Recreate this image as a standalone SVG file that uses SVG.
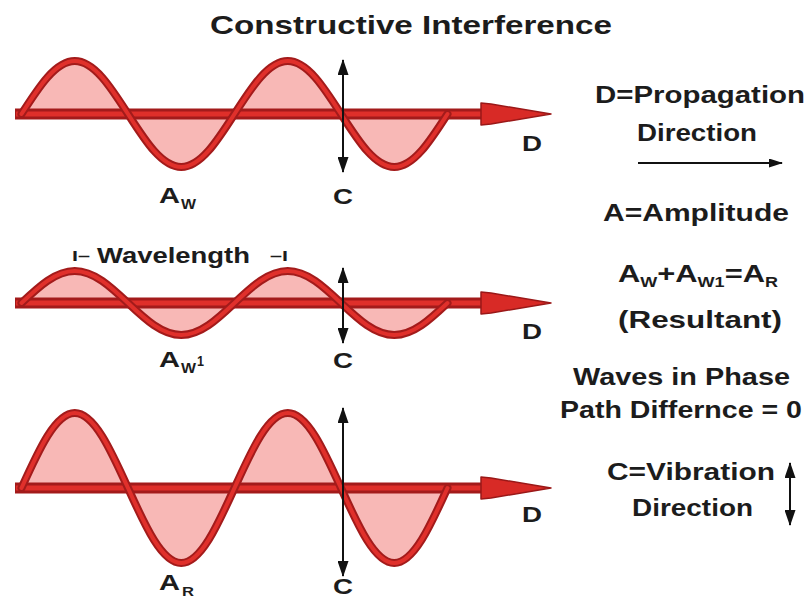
<svg xmlns="http://www.w3.org/2000/svg" width="810" height="602" viewBox="0 0 810 602">
<style>
  text { font-family: "Liberation Sans", Arial, sans-serif; font-weight: bold; fill: #1c1c1c; }
  .title { font-size: 26px; }
  .leg { font-size: 24px; }
  .lbl { font-size: 22px; }
  .sub { font-size: 14px; }
  .fill { fill: #f8b8b6; stroke: none; }
  .wout { fill: none; stroke: #a31b1b; stroke-width: 8; stroke-linejoin: round; stroke-linecap: round; }
  .win { fill: none; stroke: #e0302b; stroke-width: 4; stroke-linejoin: round; stroke-linecap: round; }
  .aout { stroke: #a31b1b; stroke-width: 11; }
  .ain { stroke: #df2f2a; stroke-width: 5; }
  .head { fill: #d82a26; stroke: #9a1818; stroke-width: 1.5; stroke-linejoin: round; }
  .vib { stroke: #111; stroke-width: 2; fill: none; marker-start: url(#tip); marker-end: url(#tip); }
  .dir { stroke: #111; stroke-width: 2; fill: none; marker-end: url(#tipS); }
</style>
<defs>
  <marker id="tip" viewBox="0 0 16 11" refX="15" refY="5.5" markerWidth="16" markerHeight="11" markerUnits="userSpaceOnUse" orient="auto-start-reverse">
    <path d="M0,0 L16,5.5 L0,11 Z" fill="#111"/>
  </marker>
  <marker id="tipS" viewBox="0 0 14 9" refX="13" refY="4.5" markerWidth="14" markerHeight="9" markerUnits="userSpaceOnUse" orient="auto-start-reverse">
    <path d="M0,0 L14,4.5 L0,9 Z" fill="#111"/>
  </marker>
  <path id="w1" d="M21.5,114 c17.37,-27.15 33.98,-53 53.25,-53 c19.27,0 35.88,25.85 53.25,53 c17.37,27.15 33.98,53 53.25,53 c19.27,0 35.88,-25.85 53.25,-53 c17.37,-27.15 33.98,-53 53.25,-53 c19.27,0 35.88,25.85 53.25,53 c17.37,27.15 33.98,53 53.25,53 c19.27,0 35.88,-25.85 53.25,-53"/>
  <path id="w2" d="M21.5,303 c17.37,-16.39 33.98,-32 53.25,-32 c19.27,0 35.88,15.61 53.25,32 c17.37,16.39 33.98,32 53.25,32 c19.27,0 35.88,-15.61 53.25,-32 c17.37,-16.39 33.98,-32 53.25,-32 c19.27,0 35.88,15.61 53.25,32 c17.37,16.39 33.98,32 53.25,32 c19.27,0 35.88,-15.61 53.25,-32"/>
  <path id="w3" d="M21.5,488 c17.37,-38.42 33.98,-75 53.25,-75 c19.27,0 35.88,36.58 53.25,75 c17.37,38.42 33.98,75 53.25,75 c19.27,0 35.88,-36.58 53.25,-75 c17.37,-38.42 33.98,-75 53.25,-75 c19.27,0 35.88,36.58 53.25,75 c17.37,38.42 33.98,75 53.25,75 c19.27,0 35.88,-36.58 53.25,-75"/>
</defs>
<rect width="810" height="602" fill="#ffffff"/>

<g id="title">
  <text class="title" x="210" y="34" textLength="402" lengthAdjust="spacingAndGlyphs">Constructive Interference</text>
</g>

<g id="wave-top">
  <use href="#w1" class="fill"/>
  <line class="aout" x1="15" y1="114" x2="486" y2="114"/>
  <line class="ain" x1="16" y1="114" x2="486" y2="114"/>
  <use href="#w1" class="wout"/>
  <use href="#w1" class="win"/>
  <path class="head" d="M481,103 L491,104 L551,114 L491,124 L481,125 Z"/>
  <text class="lbl" x="522" y="151" textLength="20" lengthAdjust="spacingAndGlyphs">D</text>
  <text class="lbl" x="159" y="203" textLength="21" lengthAdjust="spacingAndGlyphs">A</text>
  <text class="sub" x="181" y="209" textLength="15" lengthAdjust="spacingAndGlyphs">W</text>
  <text class="lbl" x="343" y="204" text-anchor="middle" textLength="20" lengthAdjust="spacingAndGlyphs">C</text>
</g>

<g id="wave-mid">
  <use href="#w2" class="fill"/>
  <line class="aout" x1="15" y1="303" x2="486" y2="303"/>
  <line class="ain" x1="16" y1="303" x2="486" y2="303"/>
  <use href="#w2" class="wout"/>
  <use href="#w2" class="win"/>
  <path class="head" d="M481,292 L491,293 L551,303 L491,313 L481,314 Z"/>
  <text class="lbl" x="522" y="339" textLength="20" lengthAdjust="spacingAndGlyphs">D</text>
  <text class="lbl" x="159" y="367" textLength="21" lengthAdjust="spacingAndGlyphs">A</text>
  <text class="sub" x="181" y="373" textLength="15" lengthAdjust="spacingAndGlyphs">W</text>
  <text class="sub" x="197" y="366" textLength="7" lengthAdjust="spacingAndGlyphs">1</text>
  <text class="lbl" x="343" y="368" text-anchor="middle" textLength="20" lengthAdjust="spacingAndGlyphs">C</text>
  <text class="sub" x="72" y="261" textLength="18" lengthAdjust="spacingAndGlyphs">I–</text>
  <text class="lbl" x="97" y="263" textLength="153" lengthAdjust="spacingAndGlyphs">Wavelength</text>
  <text class="sub" x="270" y="261" textLength="18" lengthAdjust="spacingAndGlyphs">–I</text>
</g>

<g id="wave-bot">
  <use href="#w3" class="fill"/>
  <line class="aout" x1="15" y1="488" x2="486" y2="488"/>
  <line class="ain" x1="16" y1="488" x2="486" y2="488"/>
  <use href="#w3" class="wout"/>
  <use href="#w3" class="win"/>
  <path class="head" d="M481,477 L491,478 L551,488 L491,498 L481,499 Z"/>
  <text class="lbl" x="522" y="522" textLength="20" lengthAdjust="spacingAndGlyphs">D</text>
  <text class="lbl" x="159" y="590" textLength="21" lengthAdjust="spacingAndGlyphs">A</text>
  <text x="182" y="596" style="font-size:12px" textLength="12" lengthAdjust="spacingAndGlyphs">R</text>
  <text class="lbl" x="343" y="594" text-anchor="middle" textLength="20" lengthAdjust="spacingAndGlyphs">C</text>
</g>

<g id="connectors">
  <line class="vib" x1="343" y1="60" x2="343" y2="172"/>
  <line class="vib" x1="343" y1="268" x2="343" y2="343"/>
  <line class="vib" x1="343" y1="408" x2="343" y2="576"/>
  <line class="dir" x1="638" y1="163" x2="782" y2="163"/>
  <line class="vib" x1="790" y1="463" x2="790" y2="525"/>
</g>

<g id="legend">
  <text class="leg" x="595" y="103" textLength="210" lengthAdjust="spacingAndGlyphs">D=Propagation</text>
  <text class="leg" x="637" y="141" textLength="120" lengthAdjust="spacingAndGlyphs">Direction</text>
  <text class="leg" x="603" y="221" textLength="186" lengthAdjust="spacingAndGlyphs">A=Amplitude</text>
  <text class="leg" x="618" y="282" textLength="160" lengthAdjust="spacingAndGlyphs">A<tspan class="sub" dy="5">W</tspan><tspan dy="-5">+A</tspan><tspan class="sub" dy="5">W1</tspan><tspan dy="-5">=A</tspan><tspan class="sub" dy="5">R</tspan></text>
  <text class="leg" x="618" y="328" textLength="164" lengthAdjust="spacingAndGlyphs">(Resultant)</text>
  <text class="leg" x="573" y="385" textLength="217" lengthAdjust="spacingAndGlyphs">Waves in Phase</text>
  <text class="leg" x="560" y="418" textLength="242" lengthAdjust="spacingAndGlyphs">Path Differnce = 0</text>
  <text class="leg" x="607" y="480" textLength="168" lengthAdjust="spacingAndGlyphs">C=Vibration</text>
  <text class="leg" x="632" y="516" textLength="121" lengthAdjust="spacingAndGlyphs">Direction</text>
</g>
</svg>
